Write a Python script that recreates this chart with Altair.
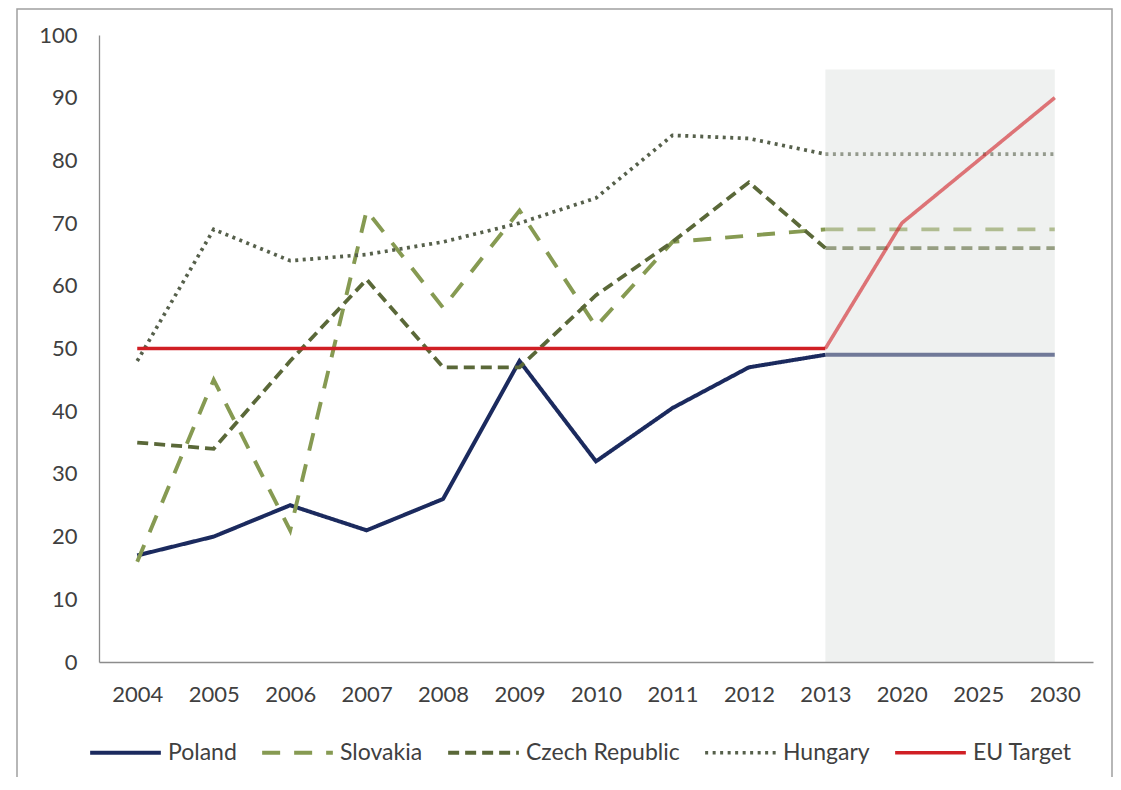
import altair as alt
import pandas as pd

years = ["2004", "2005", "2006", "2007", "2008", "2009", "2010", "2011", "2012", "2013", "2020", "2025", "2030"]
series_names = ["Poland", "Slovakia", "Czech Republic", "Hungary", "EU Target"]
poland = [17, 20, 25, 21, 26, 48, 32, 40.5, 47, 49, 49, 49, 49]
slovakia = [16, 45, 21, 72, 56.5, 72, 53.5, 67, 68, 69, 69, 69, 69]
czech = [35, 34, 48, 61, 47, 47, 58.5, 67, 76.5, 66, 66, 66, 66]
hungary = [48, 69, 64, 65, 67, 70, 74, 84, 83.5, 81, 81, 81, 81]
eu_target = [50, 50, 50, 50, 50, 50, 50, 50, 50, 50, 70, 80, 90]

colors = ["#1b2a5e", "#869a52", "#5a6838", "#56604b", "#d01f24"]
dashes = [[1, 0], [18, 14], [11, 6], [3, 4.5], [1, 0]]
widths = [4, 3.6, 3.6, 3.3, 4.3]

values = [poland, slovakia, czech, hungary, eu_target]
rows = []
last_hist = years.index("2013")
for name, vals in zip(series_names, values):
    for i, (yr, v) in enumerate(zip(years, vals)):
        if i <= last_hist:
            rows.append({"year": yr, "value": v, "series": name, "phase": "hist"})
        if i >= last_hist:
            rows.append({"year": yr, "value": v, "series": name, "phase": "proj"})
df = pd.DataFrame(rows)

shade_df = pd.DataFrame([{"x1": "2013", "x2": "2030", "y1": 0, "y2": 94.5}])

FONT = "Lato"
TXT = "#404040"

x_enc = alt.X("year:O", sort=years, scale=alt.Scale(domain=years, type="point", padding=0.5),
              axis=alt.Axis(title=None, labelAngle=0, labelAlign="center", ticks=False, labelPadding=32,
                            domainColor="#8c8c8c", domainWidth=1.3, grid=False))
y_enc = alt.Y("value:Q", scale=alt.Scale(domain=[0, 100], nice=False),
              axis=alt.Axis(title=None, values=list(range(0, 101, 10)), ticks=False,
                            labelPadding=22, domainColor="#8c8c8c", domainWidth=1.3, grid=False))

leg = alt.Legend(title=None, orient="none", direction="horizontal",
                 legendX=-11, legendY=680, symbolType="stroke",
                 symbolSize=5000, symbolStrokeWidth=4, symbolOpacity=1,
                 labelFont=FONT, labelFontSize=23, labelColor=TXT,
                 labelOffset=5, columnPadding=17)
color_enc = alt.Color("series:N", scale=alt.Scale(domain=series_names, range=colors), legend=leg)
dash_enc = alt.StrokeDash("series:N", scale=alt.Scale(domain=series_names, range=dashes), legend=leg)
width_enc = alt.StrokeWidth("series:N", scale=alt.Scale(domain=series_names, range=widths), legend=None)

shade = alt.Chart(shade_df).mark_rect(color="#eff1f0").encode(
    x=alt.X("x1:O", sort=years, scale=alt.Scale(domain=years, type="point", padding=0.5)),
    x2="x2:O",
    y=alt.Y("y1:Q"),
    y2="y2:Q",
)

hist = alt.Chart(df).transform_filter(alt.datum.phase == "hist").mark_line(strokeCap="butt").encode(
    x=x_enc, y=y_enc, color=color_enc, strokeDash=dash_enc, strokeWidth=width_enc,
    detail="series:N",
)
proj = alt.Chart(df).transform_filter(alt.datum.phase == "proj").mark_line(strokeCap="butt", opacity=0.6).encode(
    x=x_enc, y=y_enc, color=color_enc, strokeDash=dash_enc, strokeWidth=width_enc,
    detail="series:N",
)

border = alt.Chart(alt.Data(values=[{"a": 1}])).mark_rect(
    fill="transparent", stroke="#a0a0a0", strokeWidth=1.5
).encode(x=alt.value(-82), x2=alt.value(1013), y=alt.value(-26), y2=alt.value(800))

chart = alt.layer(shade, hist, proj, border).properties(
    width=994, height=627,
    autosize=alt.AutoSizeParams(type="none"),
    padding={"left": 91, "top": 27, "right": 20, "bottom": 115},
    background="white",
).configure_view(stroke=None).configure_axis(
    labelFont=FONT, labelFontSize=22, labelColor=TXT
)

chart.save("out.html", embed_options={"renderer": "svg", "actions": False})
